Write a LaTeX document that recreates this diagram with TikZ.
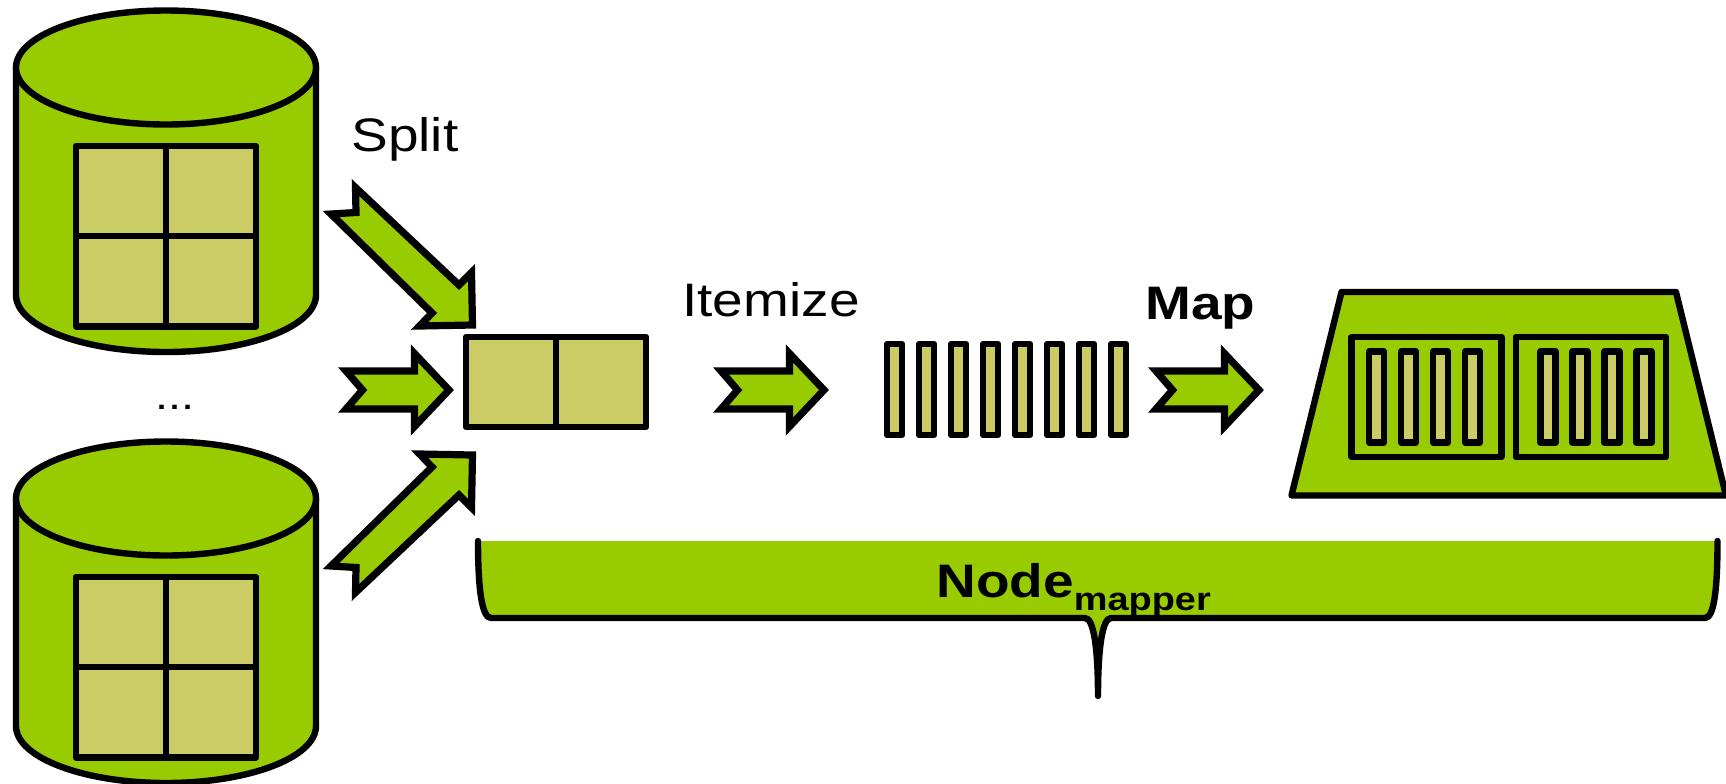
\documentclass[tikz,border=0pt]{standalone}
\usepackage{fontspec}
\setmainfont[FakeStretch=1.17]{Liberation Sans}
\definecolor{nodegreen}{HTML}{99CC00}
\definecolor{itemtan}{HTML}{CCCC66}
\begin{document}
\begin{tikzpicture}[x=0.5pt,y=-0.5pt]
	\tikzset{outline/.style={draw=black,line width=3.2pt,line join=round}}
	\tikzset{store/.style={outline,fill=nodegreen}}
	\tikzset{item/.style={outline,fill=itemtan}}
	\tikzset{flow/.style={draw=black,line width=3.6pt,fill=nodegreen,miter limit=20}}
	\tikzset{caption/.style={anchor=base west,inner sep=0pt,font=\fontsize{23.5}{28}\selectfont}}
	\useasboundingbox (0,0) rectangle (1726,783);
	\foreach \dy in {0,431} {
		\draw[store] (16,67.5+\dy) -- (16,295+\dy) arc[start angle=180,end angle=360,x radius=75pt,y radius=28.5pt] -- (316,67.5+\dy) -- cycle;
		\draw[store] (166,67.5+\dy) ellipse[x radius=75pt,y radius=28.5pt];
		\foreach \cx in {76,166} \foreach \cy in {146,236}
			\draw[item] (\cx,\cy+\dy) rectangle +(90,90.5);
	}
	\foreach \cx in {466,556}
		\draw[item] (\cx,337) rectangle +(90,90);
	\draw[flow] (355.5,187.5) -- (459,285) -- (471.5,272.5) -- (472.5,325) -- (419.5,326) -- (432,313) -- (331,214) -- (356,212.5) -- cycle;
	\draw[flow] (355.5,592.5) -- (459,495) -- (471.5,507.5) -- (472.5,455) -- (419.5,454) -- (432,467) -- (331,566) -- (356,567.5) -- cycle;
	\foreach \dx in {0,375,810}
		\draw[flow] (346+\dx,371) -- (414.5+\dx,371) -- (414.5+\dx,353.5) -- (449+\dx,390) -- (414.5+\dx,426.5) -- (414.5+\dx,409) -- (346+\dx,409) -- (362.5+\dx,390) -- cycle;
	\foreach \bx in {894.5,926.5,958.5,990.5,1022.5,1054.5,1086.5,1118.5}
		\draw[item] (\bx-7.5,344) rectangle +(15,91);
	\draw[store] (1341.5,292) -- (1676,292) -- (1726,495.5) -- (1291.5,495.5) -- cycle;
	\foreach \bx in {1351.5,1516}
		\draw[store] (\bx,337) rectangle +(150,120);
	\foreach \bx in {1376.5,1408.5,1440.5,1472.5,1548,1580,1612,1644}
		\draw[item] (\bx-7.5,351.5) rectangle +(15,91);
	\fill[nodegreen] (478,541) .. controls (478,590) and (482,618) .. (491,618) -- (1085,618) .. controls (1094,618) and (1098,650) .. (1098,696) .. controls (1098,650) and (1102,618) .. (1111,618) -- (1705,618) .. controls (1714,618) and (1717.5,590) .. (1717.5,541) -- cycle;
	\draw[outline,line cap=round] (478,541) .. controls (478,590) and (482,618) .. (491,618) -- (1085,618) .. controls (1094,618) and (1098,650) .. (1098,696) .. controls (1098,650) and (1102,618) .. (1111,618) -- (1705,618) .. controls (1714,618) and (1717.5,590) .. (1717.5,541);
	\node[caption] (split) at (351,151) {Split};
	\node[caption,font=\fontsize{20}{24}\selectfont] (dots) at (155,409) {...};
	\node[caption] (itemize) at (682,316) {Itemize};
	\node[caption,font=\fontsize{23.5}{28}\selectfont\bfseries] (map) at (1145,319) {Map};
	\node[caption,font=\fontsize{23.5}{28}\selectfont\bfseries] (nodemapper) at (936,597) {Node\raisebox{-6.5pt}{\fontsize{16.2}{20}\selectfont mapper}};
\end{tikzpicture}
\end{document}
